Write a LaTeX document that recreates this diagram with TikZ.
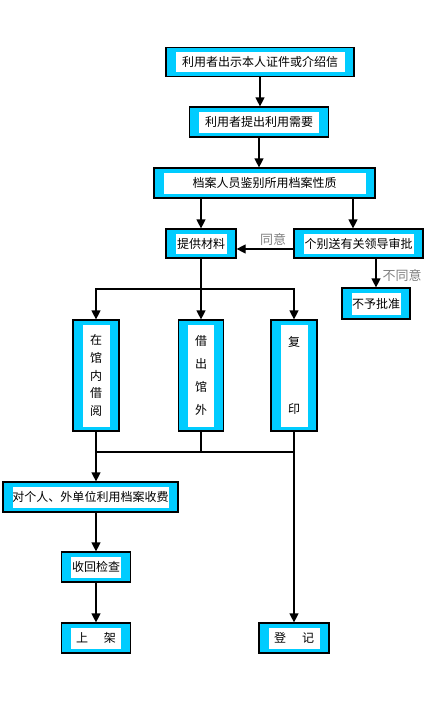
\documentclass[tikz,border=0pt]{standalone}
\usepackage{fontspec}
\setmainfont{Noto Sans CJK SC}
\usetikzlibrary{arrows.meta}
\definecolor{boxblue}{RGB}{0,204,255}
\begin{document}
\begin{tikzpicture}[x=1pt,y=-1pt,
  box/.style={draw, fill=boxblue, line width=1.2pt, inner sep=0pt, font=\fontsize{12}{14}\selectfont,
    path picture={\fill[white] ([shift={(9.5pt,4.5pt)}]path picture bounding box.south west) rectangle ([shift={(-9.5pt,-4.5pt)}]path picture bounding box.north east);}},
  arr/.style={-{Triangle[width=9pt,length=9pt]}, line width=1.2pt},
  lbl/.style={text=gray, font=\fontsize{13}{15}\selectfont}]
\useasboundingbox (0,0) rectangle (425,709);

\node[box, minimum width=188pt, minimum height=29pt] (b1) at (260,62) {利用者出示本人证件或介绍信};
\node[box, minimum width=139pt, minimum height=30pt] (b2) at (259,122) {利用者提出利用需要};
\node[box, minimum width=221pt, minimum height=30pt] (b3) at (264.5,183) {档案人员鉴别所用档案性质};
\node[box, minimum width=70pt, minimum height=29pt] (b4) at (201,243.5) {提供材料};
\node[box, minimum width=129pt, minimum height=29pt] (b5) at (358.5,243.5) {个别送有关领导审批};
\node[box, minimum width=68pt, minimum height=31pt] (b6) at (376,303.5) {不予批准};

\node[box, minimum width=46pt, minimum height=111pt, align=center, font=\fontsize{12}{17.75}\selectfont] (b7) at (96,375.5) {在\\馆\\内\\借\\阅};
\node[box, minimum width=45pt, minimum height=111pt, align=center, font=\fontsize{12}{17.75}\selectfont] (b8) at (201,375.5) {借\\[5pt]出\\[5pt]馆\\[5pt]外};
\node[box, minimum width=46pt, minimum height=111pt, align=center, font=\fontsize{12}{17.75}\selectfont] (b9) at (294,375.5) {复\\[50pt]印};

\node[box, minimum width=175pt, minimum height=30pt] (b10) at (90.5,497) {对个人、外单位利用档案收费};
\node[box, minimum width=69pt, minimum height=30pt] (b11) at (96,567) {收回检查};
\node[box, minimum width=69pt, minimum height=30pt] (b12) at (96,638) {上\hspace{16pt}架};
\node[box, minimum width=70pt, minimum height=30pt] (b13) at (294,638) {登\hspace{16pt}记};

\node[lbl] (ok) at (273,240) {同意};
\node[lbl] (no) at (402,276) {不同意};

\draw[arr] (b1.south) -- (b1.south |- b2.north);
\draw[arr] (b2.south) -- (b2.south |- b3.north);
\draw[arr] (b3.south -| b4) -- (b4.north);
\draw[arr] ([xshift=-5.5pt]b5.north |- b3.south) -- ([xshift=-5.5pt]b5.north);
\draw[arr] ([yshift=-5.5pt]b5.west) -- ([yshift=-5.5pt]b4.east);
\draw[arr] (b5.south -| b6) -- (b6.north);

\coordinate (b4a) at (201,289);
\draw[line width=1.2pt] (b4.south) -- (b4a);
\draw[arr] (b4a) -| (b7.north);
\draw[arr] (b4a) -| (b9.north);
\draw[arr] (b4a) -- (b8.north);

\coordinate (b7a) at (96,452);
\draw[line width=1.2pt] (b7.south) -- (b7a) -- (b7a -| b9);
\draw[line width=1.2pt] (b8.south) -- (b8.south |- b7a);
\draw[arr] (b9.south) -- (b13.north);
\draw[arr] (b7a) -- (b7a |- b10.north);
\draw[arr] (b10.south -| b11) -- (b11.north);
\draw[arr] (b11.south) -- (b12.north);
\end{tikzpicture}
\end{document}
